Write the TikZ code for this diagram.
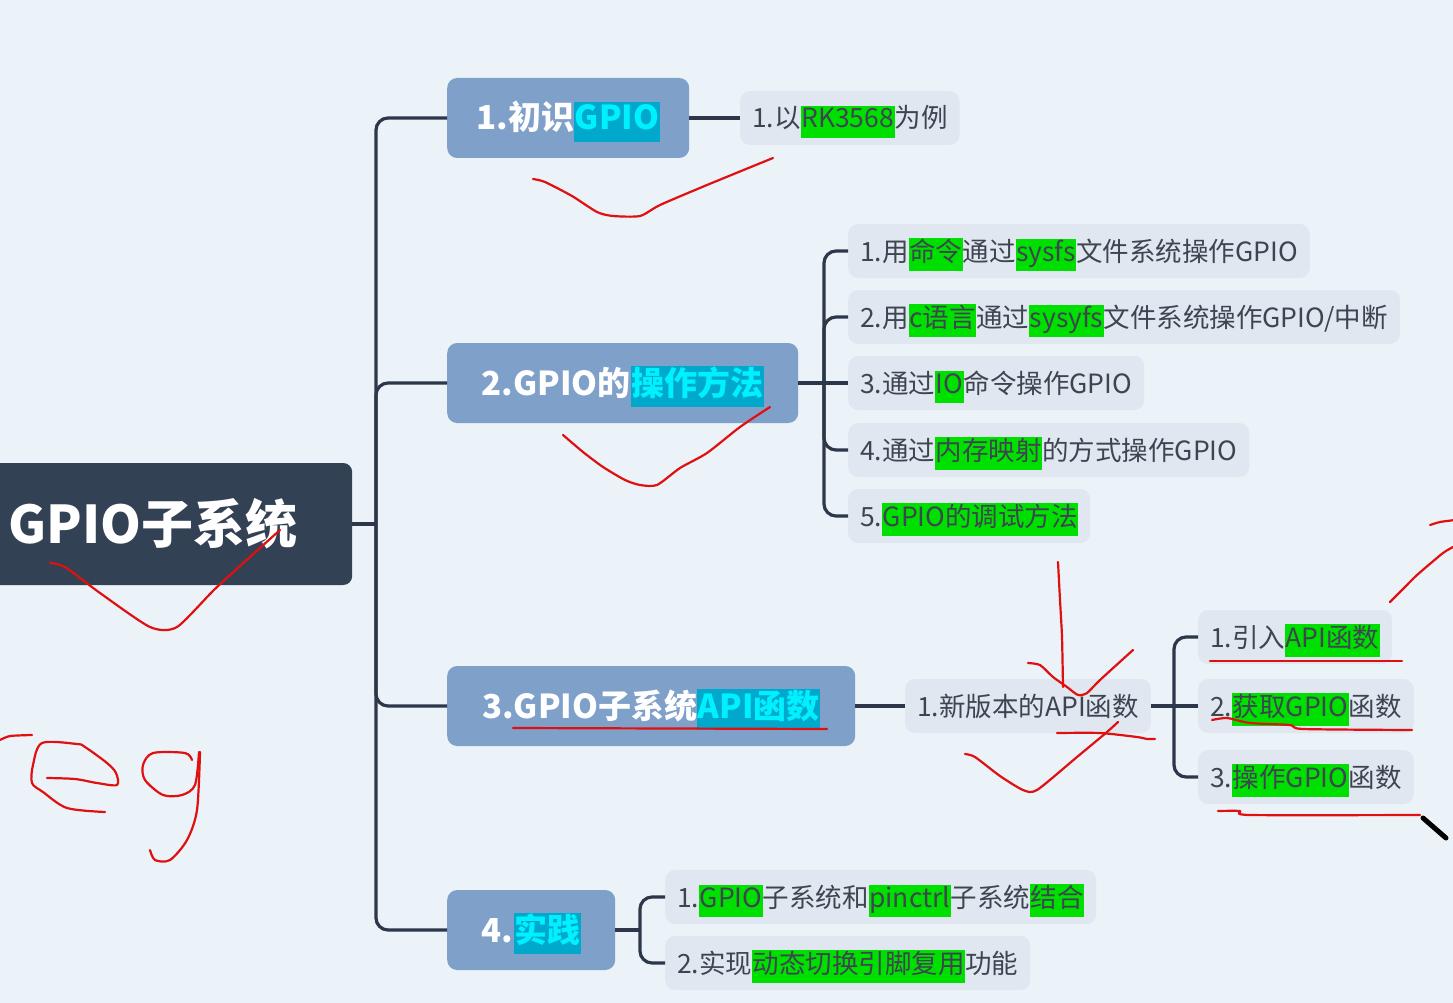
\documentclass[tikz,border=0pt]{standalone}
\usepackage{fontspec}
\setmainfont{Noto Sans CJK SC}
\definecolor{bg}{HTML}{EBF2F8}
\definecolor{rootc}{HTML}{334155}
\definecolor{lone}{HTML}{7FA0C9}
\definecolor{ltwo}{HTML}{E0E7F0}
\definecolor{txtg}{HTML}{3E4550}
\definecolor{conc}{HTML}{2C384A}
\definecolor{hlg}{HTML}{00E000}
\definecolor{hlc}{HTML}{00A8CC}
\definecolor{hlct}{HTML}{00F0FF}
\definecolor{pen}{HTML}{E01010}
\newcommand\hlgreen[1]{{\setlength{\fboxsep}{0.5pt}\colorbox{hlg}{\strut #1}}}
\newcommand\hlcyan[1]{{\setlength{\fboxsep}{0.5pt}\colorbox{hlc}{\color{hlct}\strut #1}}}
\tikzset{
  rootbox/.style={fill=rootc, text=white, font=\fontsize{52pt}{60pt}\selectfont\bfseries,
    rounded corners=9pt, anchor=west, minimum height=122pt, text width=326pt, align=left,
    inner xsep=18pt, inner ysep=0pt},
  lonebox/.style={fill=lone, text=white, font=\fontsize{33pt}{39pt}\selectfont\bfseries,
    rounded corners=10pt, anchor=west, minimum height=80pt, inner sep=0pt,
    text height=30pt, text depth=6pt},
  ltwobox/.style={fill=ltwo, text=txtg, font=\fontsize{26.5pt}{31pt}\selectfont,
    rounded corners=10pt, anchor=west, minimum height=54pt, inner xsep=12pt, inner ysep=0pt,
    text height=25pt, text depth=5pt},
  conn/.style={draw=conc, line width=3.2pt, rounded corners=12pt},
  ink/.style={draw=pen, line width=2.2pt, line cap=round, line join=round},
}
\begin{document}
\begin{tikzpicture}[x=1pt,y=-1pt]
\useasboundingbox (0,0) rectangle (1453,1003);
\fill[bg] (0,0) rectangle (1453,1003);

% root and level 1
\node[rootbox] (root) at (-10,524) {GPIO子系统};
\node[lonebox, minimum width=242pt] (n1) at (447,118) {1.初识\hlcyan{GPIO}};
\node[lonebox, minimum width=351pt] (n2) at (447,383) {2.GPIO的\hlcyan{操作方法}};
\node[lonebox, minimum width=408pt] (n3) at (447,706) {3.GPIO子系统\hlcyan{API函数}};
\node[lonebox, minimum width=168pt] (n4) at (447,930) {4.\hlcyan{实践}};

% level 2
\node[ltwobox] (a1) at (740,118) {1.以\hlgreen{RK3568}为例};
\node[ltwobox] (b1) at (848,251) {1.用\hlgreen{命令}通过\hlgreen{sysfs}文件系统操作GPIO};
\node[ltwobox] (b2) at (848,317) {2.用\hlgreen{c语言}通过\hlgreen{sysyfs}文件系统操作GPIO/中断};
\node[ltwobox] (b3) at (848,383) {3.通过\hlgreen{IO}命令操作GPIO};
\node[ltwobox] (b4) at (848,450) {4.通过\hlgreen{内存映射}的方式操作GPIO};
\node[ltwobox] (b5) at (848,516) {5.\hlgreen{GPIO的调试方法}};
\node[ltwobox] (c1) at (905,706) {1.新版本的API函数};
\node[ltwobox] (d1) at (1198,637) {1.引入\hlgreen{API函数}};
\node[ltwobox] (d2) at (1198,706) {2.\hlgreen{获取GPIO}函数};
\node[ltwobox] (d3) at (1198,777) {3.\hlgreen{操作GPIO}函数};
\node[ltwobox] (e1) at (665,897) {1.\hlgreen{GPIO}子系统和\hlgreen{pinctrl}子系统\hlgreen{结合}};
\node[ltwobox] (e2) at (665,963) {2.实现\hlgreen{动态切换引脚复用}功能};

% junction points
\coordinate (sp) at (376,524);
\coordinate (sp2) at (824,383);
\coordinate (sp3) at (1174,706);
\coordinate (sp4) at (640,930);

% connectors
\draw[conn] (root.east) -- (sp);
\draw[conn] (n1.west) -| (sp) |- (n4.west);
\draw[conn] (n2.west) -| (sp);
\draw[conn] (n3.west) -| (sp);
\draw[conn] (n1.east) -- (a1.west);
\draw[conn] (n2.east) -- (b3.west);
\draw[conn] (b1.west) -| (sp2) |- (b5.west);
\draw[conn] (b2.west) -| (sp2);
\draw[conn] (b4.west) -| (sp2);
\draw[conn] (n3.east) -- (c1.west);
\draw[conn] (c1.east) -- (d2.west);
\draw[conn] (d1.west) -| (sp3) |- (d3.west);
\draw[conn] (n4.east) -- (sp4);
\draw[conn] (e1.west) -| (sp4) |- (e2.west);

% hand-drawn red ink
\draw[ink] plot[smooth, tension=0.4] coordinates {(533,179) (545,182) (572,196) (597,212) (613,216) (640,216) (660,205) (707,185) (773,158)};
\draw[ink] plot[smooth, tension=0.4] coordinates {(563,435) (583,452) (603,467) (625,480) (640,485) (657,485) (680,468) (707,453) (740,427) (770,407)};
\draw[ink] plot[smooth, tension=0.4] coordinates {(50,563) (65,567) (100,593) (150,627) (177,627) (217,587) (280,530)};
\draw[ink] plot[smooth, tension=0.4] coordinates {(0,740) (10,736) (32,735)};
\draw[ink] plot[smooth, tension=0.5] coordinates {(47,778) (75,779) (97,783) (117,785) (116,773) (107,763) (85,747) (77,744) (42,743) (33,765) (32,783) (43,792) (67,808) (105,812)};
\draw[ink] plot[smooth, tension=0.5] coordinates {(192,760) (185,753) (153,753) (143,765) (145,780) (163,795) (182,795) (195,785) (199,752)};
\draw[ink] plot[smooth, tension=0.5] coordinates {(200,752) (197,810) (187,840) (170,860) (155,860) (150,850)};
\draw[ink] (513,728) -- (827,729);
\draw[ink] plot[smooth, tension=0.4] coordinates {(1058,562) (1060,600) (1062,637) (1063,687)};
\draw[ink] plot[smooth, tension=0.4] coordinates {(1028,663) (1040,665) (1053,677) (1067,687) (1078,695) (1087,693) (1100,680) (1133,650)};
\draw[ink] plot[smooth, tension=0.4] coordinates {(1057,733) (1100,733) (1137,737) (1147,739) (1155,739)};
\draw[ink] plot[smooth, tension=0.4] coordinates {(965,754) (975,757) (1000,776) (1023,790) (1037,790) (1077,757) (1107,732) (1118,722)};
\draw[ink] (1210,661) -- (1402,661);
\draw[ink] plot[smooth, tension=0.4] coordinates {(1212,720) (1227,718) (1250,723) (1290,725) (1303,729) (1412,730)};
\draw[ink] plot[smooth, tension=0.4] coordinates {(1218,811) (1240,811) (1250,815) (1420,815)};
\draw[ink] plot[smooth, tension=0.4] coordinates {(1390,602) (1405,587) (1417,575) (1443,553) (1455,546)};
\draw[ink] plot[smooth, tension=0.4] coordinates {(1430,525) (1440,522) (1455,520)};
\draw[line width=5pt, line cap=round, black] (1423,818) -- (1446,838);
\end{tikzpicture}
\end{document}
